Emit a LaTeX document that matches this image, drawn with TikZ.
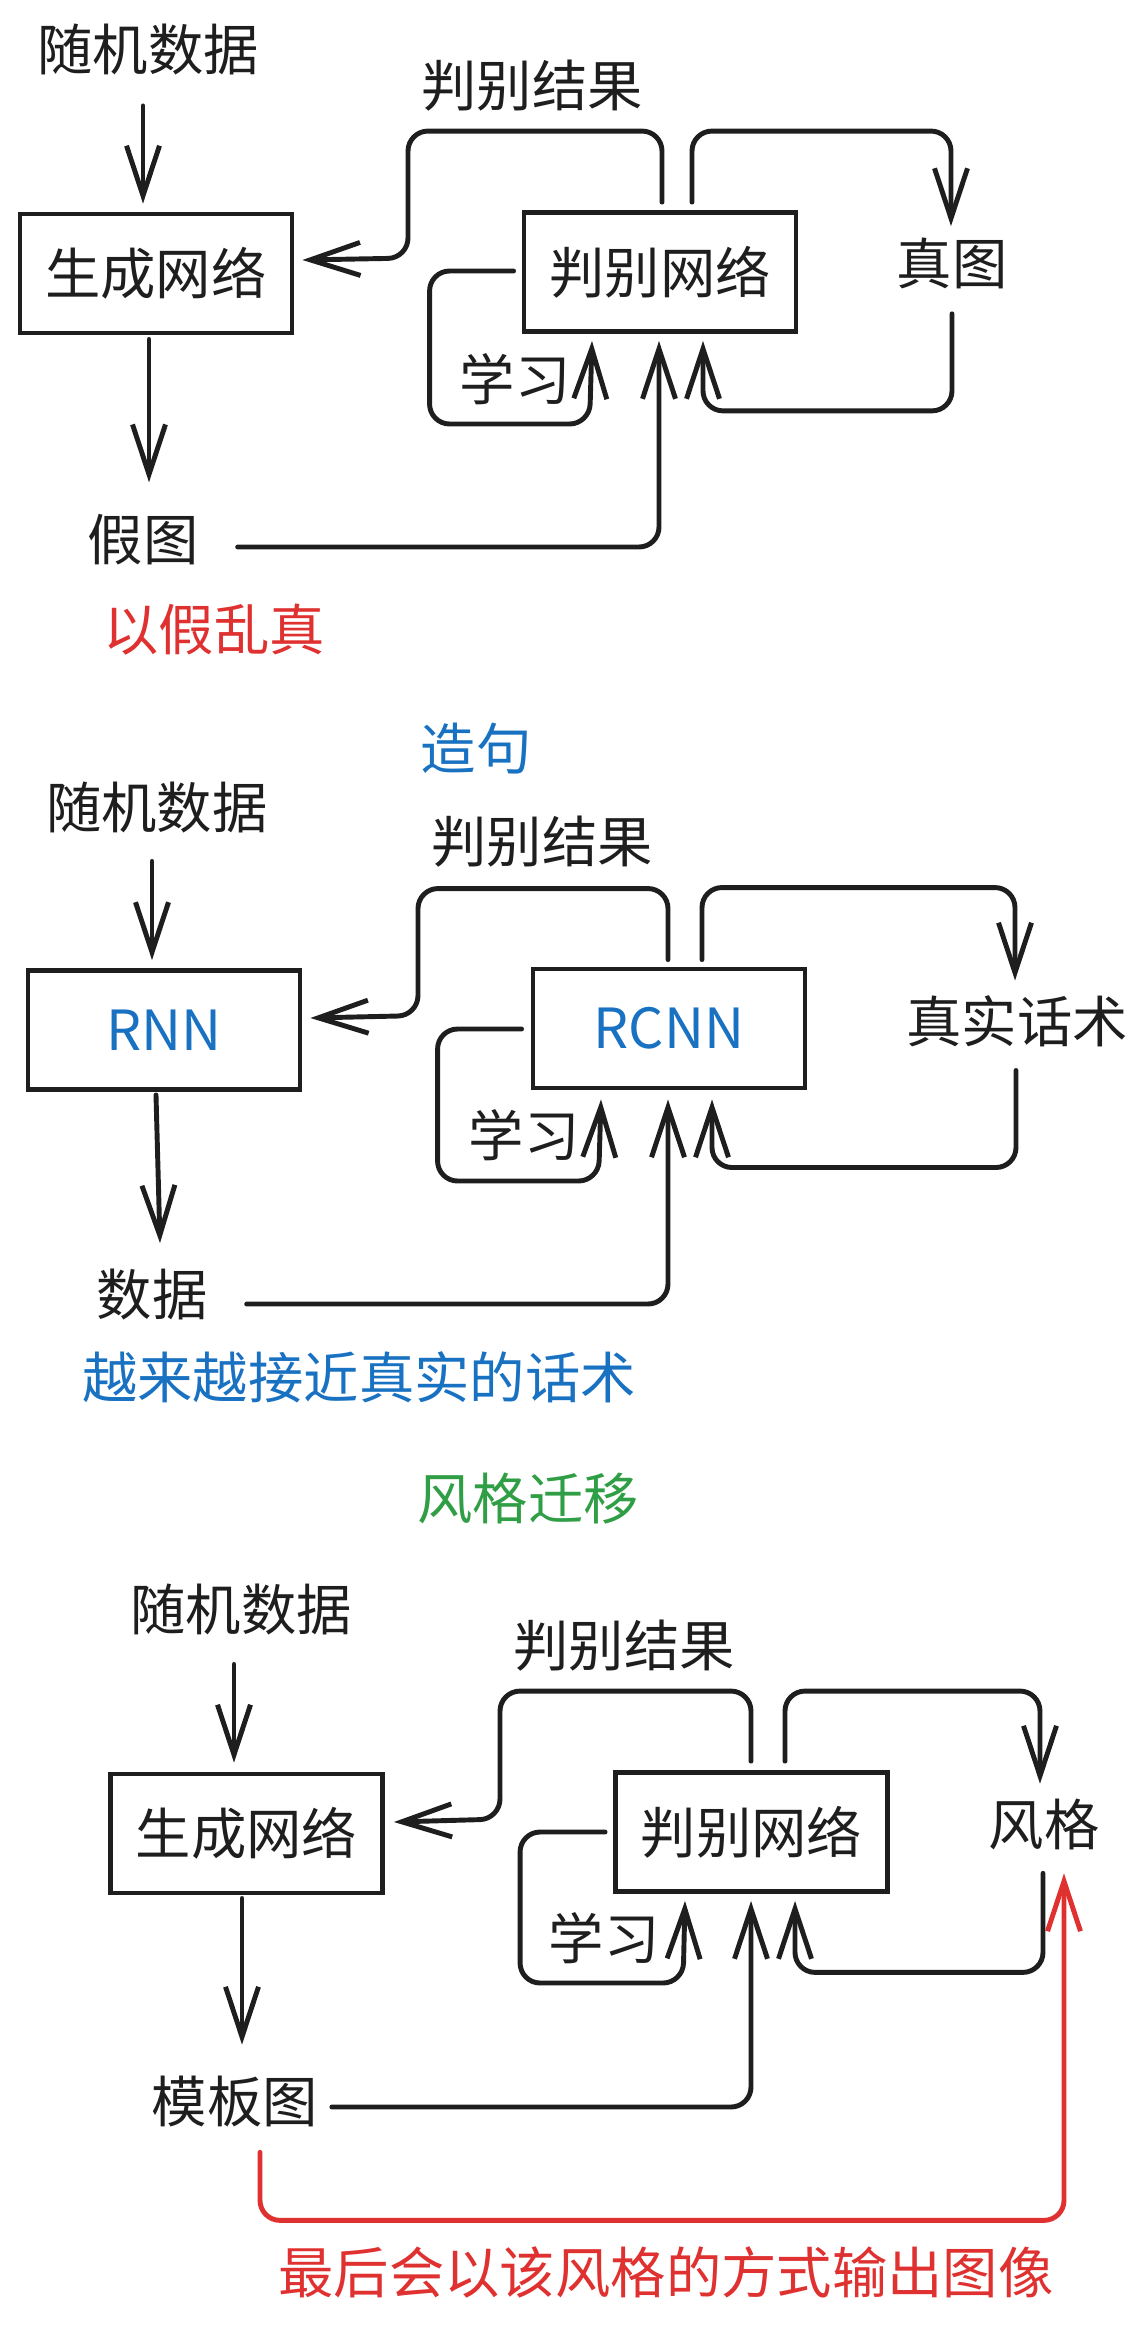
\documentclass[tikz,border=0pt]{standalone}
\usepackage{fontspec}
\setmainfont{Noto Sans CJK SC}
\usetikzlibrary{arrows.meta,calc}
\definecolor{inkblack}{HTML}{1E1E1E}
\definecolor{inkred}{HTML}{E03131}
\definecolor{inkblue}{HTML}{1971C2}
\definecolor{inkgreen}{HTML}{2F9E44}
\tikzset{
  lbl/.style={inner sep=0pt, text=inkblack, font=\fontsize{31.5}{36}\selectfont},
  netbox/.style={lbl, draw=inkblack, line width=2.8pt, minimum width=5.44cm, minimum height=2.38cm},
  arr/.style={draw=inkblack, line width=2.8pt, line cap=round, line join=round, rounded corners=0.4cm, -{Straight Barb[length=1cm,width=0.66cm]}},
}
\begin{document}
\begin{tikzpicture}[x=0.02cm, y=-0.02cm]
    \useasboundingbox (0,0) rectangle (1143,2330);

    % GAN
    \node[lbl] (rand1) at (148,50) {随机数据};
    \node[netbox] (gen1) at (156,273.5) {生成网络};
    \node[lbl] (fake1) at (143,540) {假图};
    \node[lbl, text=inkred] (motto1) at (214,630) {以假乱真};
    \node[lbl] (res1) at (532,86) {判别结果};
    \node[netbox] (dis1) at (660,272) {判别网络};
    \node[lbl] (real1) at (952,263) {真图};
    \node[lbl] (learn1) at (515,379) {学习};

    \draw[arr] ($(rand1.south)+(-5,30)$) -- ($(gen1.north)+(-13,-8)$);
    \draw[arr] ($(gen1.south)+(-7,4)$) -- ($(fake1.north)+(6,-32)$);
    \draw[arr] ($(dis1.north)+(2,-8)$) -- ++(0,-71) -| ++(-254,127) -- ($(gen1.east)+(8,-13.5)$);
    \draw[arr] ($(dis1.north)+(32,-8)$) -- ++(0,-71) -| ($(real1.north)+(-1,-11)$);
    \draw[arr] ($(real1.south)+(0,25)$) -- ++(0,97) -| ($(dis1.south)+(43,7)$);
    \draw[arr] ($(dis1.west)+(-8,-1)$) -- ++(-84,0) |- ++(160,153) -- ($(dis1.south)+(-68,7)$);
    \draw[arr] ($(fake1.east)+(39,7)$) -| ($(dis1.south)+(-1,7)$);

    % RNN
    \node[lbl, text=inkblue] (title2) at (476,749) {造句};
    \node[lbl] (rand2) at (157,808) {随机数据};
    \node[netbox, text=inkblue] (rnn) at (164,1030) {RNN};
    \node[lbl] (data2) at (152,1295) {数据};
    \node[lbl, text=inkblue] (motto2) at (359,1377) {越来越接近真实的话术};
    \node[lbl] (res2) at (542,842) {判别结果};
    \node[netbox, text=inkblue] (rcnn) at (669,1028.5) {RCNN};
    \node[lbl] (real2) at (1017,1021) {真实话术};
    \node[lbl] (learn2) at (524,1135) {学习};

    \draw[arr] ($(rand2.south)+(-5,27.5)$) -- ($(rnn.north)+(-12,-8)$);
    \draw[arr] ($(rnn.south)+(-8,3)$) -- ($(data2.north)+(8,-26)$);
    \draw[arr] ($(rcnn.north)+(-1,-7)$) -- ++(0,-71) -| ++(-250,127) -- ($(rnn.east)+(8,-12)$);
    \draw[arr] ($(rcnn.north)+(33,-7)$) -- ++(0,-72) -| ($(real2.north)+(-2,-14.5)$);
    \draw[arr] ($(real2.south)+(-1,23.5)$) -- ++(0,97) -| ($(rcnn.south)+(43,9)$);
    \draw[arr] ($(rcnn.west)+(-9,0.5)$) -- ++(-84,0) |- ++(161,152) -- ($(rcnn.south)+(-68,9)$);
    \draw[arr] ($(data2.east)+(39,9)$) -| ($(rcnn.south)+(-1,9)$);

    % style transfer
    \node[lbl, text=inkgreen] (title3) at (528,1499) {风格迁移};
    \node[lbl] (rand3) at (241,1610) {随机数据};
    \node[netbox] (gen3) at (246.5,1833.5) {生成网络};
    \node[lbl] (tmpl3) at (235,2101) {模板图};
    \node[lbl] (res3) at (624,1646) {判别结果};
    \node[netbox] (dis3) at (751.5,1832) {判别网络};
    \node[lbl] (style3) at (1044,1824) {风格};
    \node[lbl] (learn3) at (604,1938) {学习};
    \node[lbl, text=inkred] (final3) at (666,2272) {最后会以该风格的方式输出图像};

    \draw[arr] ($(rand3.south)+(-7,28.5)$) -- ($(gen3.north)+(-12.5,-9)$);
    \draw[arr] ($(gen3.south)+(-4.5,3)$) -- ($(tmpl3.north)+(7,-30.5)$);
    \draw[arr] ($(dis3.north)+(-0.5,-9)$) -- ++(0,-70) -| ++(-251,128) -- ($(gen3.east)+(9,-11.5)$);
    \draw[arr] ($(dis3.north)+(33.5,-9)$) -- ++(0,-70) -| ($(style3.north)+(-4,-14.5)$);
    \draw[arr] ($(style3.south)+(-1,23.5)$) -- ++(0,99) -| ($(dis3.south)+(43.5,7)$);
    \draw[arr] ($(dis3.west)+(-8,0)$) -- ++(-85,0) |- ++(163,151) -- ($(dis3.south)+(-66.5,7)$);
    \draw[arr] ($(tmpl3.east)+(13.5,6)$) -| ($(dis3.south)+(-0.5,7)$);
    \draw[arr, draw=inkred] ($(tmpl3.south)+(25,25.5)$) -- ++(0,68) -| ($(style3.south)+(20,23.5)$);

\end{tikzpicture}
\end{document}
